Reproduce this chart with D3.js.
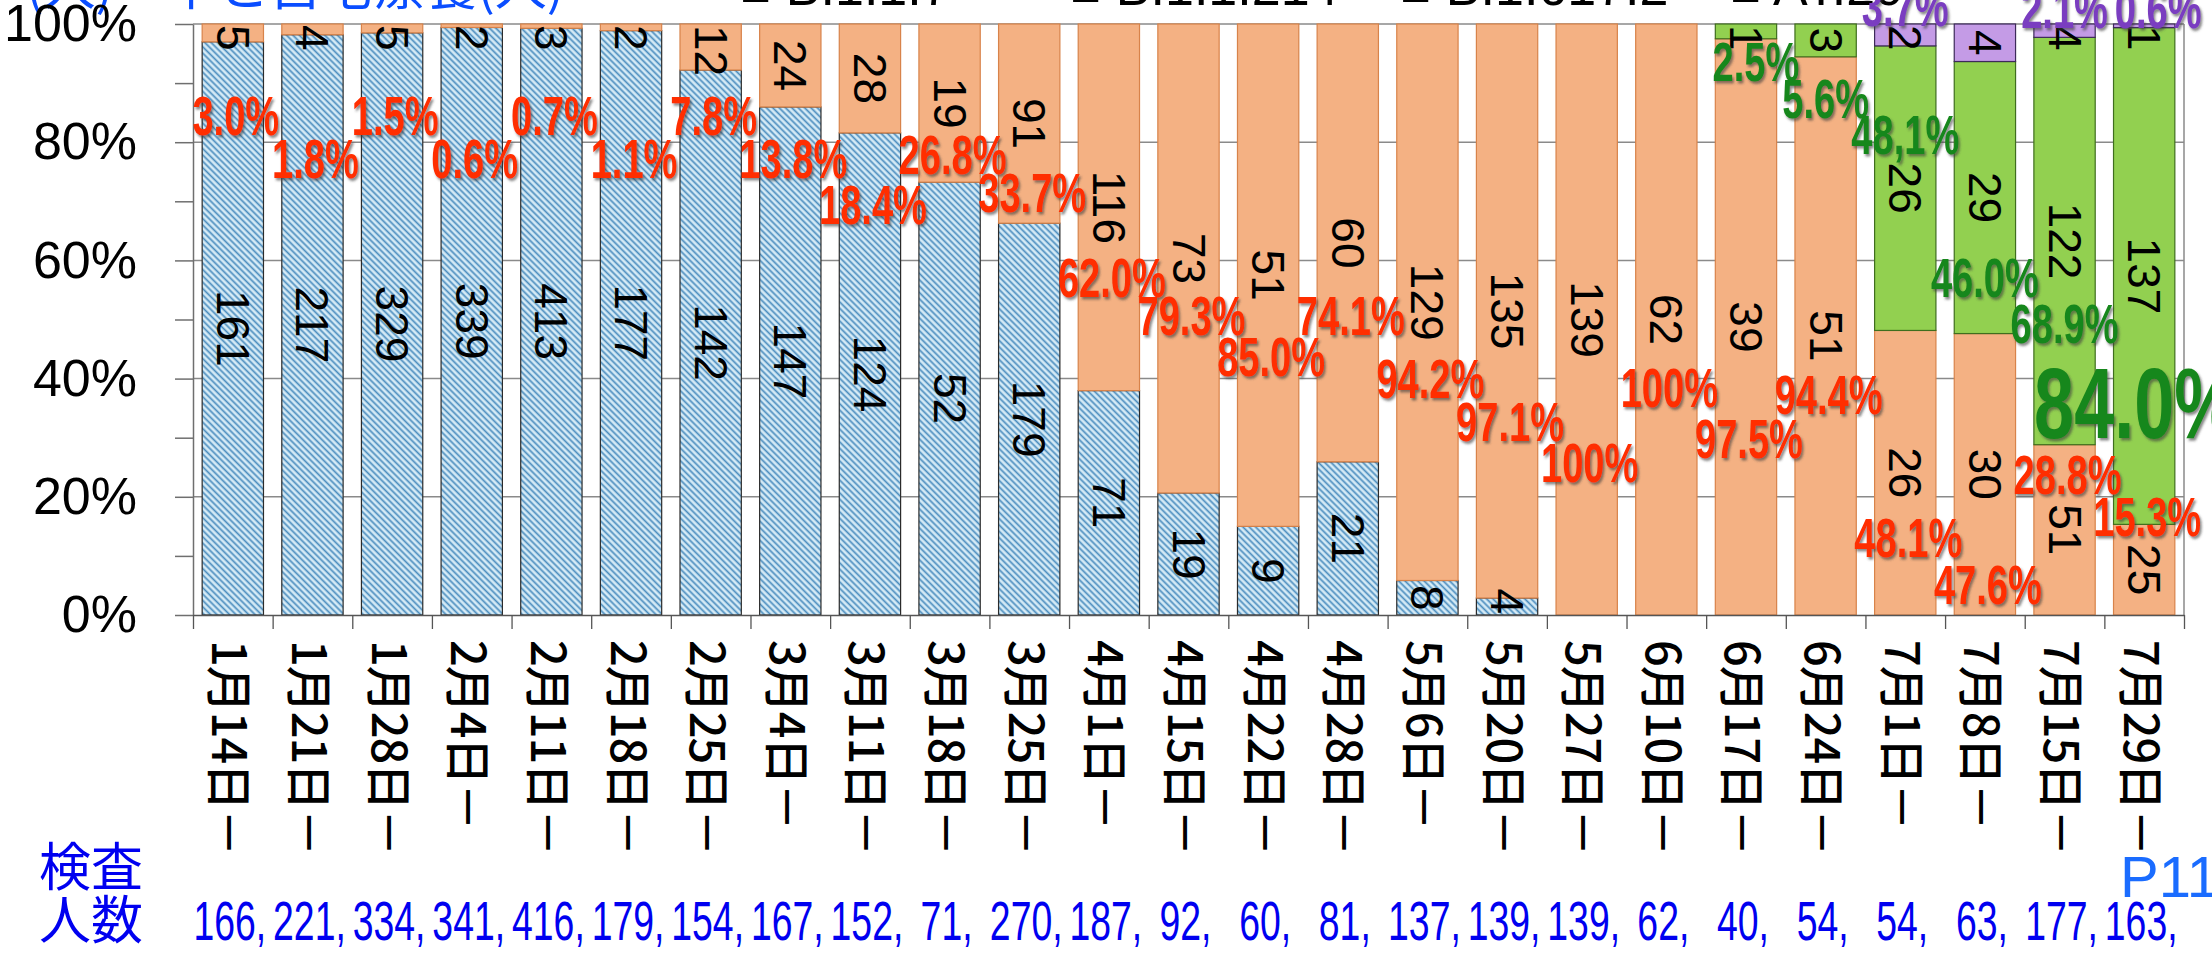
<!DOCTYPE html>
<html>
<head>
<meta charset="utf-8">
<script src="https://cdn.jsdelivr.net/npm/d3@7"></script>
<style>
  body { margin: 0; background: #fff; overflow: hidden; }
  svg { display: block; }
</style>
</head>
<body>
<svg id="chart"></svg>
<script>
// week labels and tested counts
const dates = ['1月14日－','1月21日－','1月28日－','2月4日－','2月11日－','2月18日－','2月25日－',
  '3月4日－','3月11日－','3月18日－','3月25日－','4月1日－','4月15日－','4月22日－','4月28日－',
  '5月6日－','5月20日－','5月27日－','6月10日－','6月17日－','6月24日－','7月1日－','7月8日－',
  '7月15日－','7月29日－'];
const tested = [166,221,334,341,416,179,154,167,152,71,270,187,92,60,81,137,139,139,62,40,54,54,63,177,163];

// counts per lineage (bottom -> top)
const conventional = [161,217,329,339,413,177,142,147,124,52,179,71,19,9,21,8,4,0,0,0,0,0,0,0,0];
const alpha  = [5,4,5,2,3,2,12,24,28,19,91,116,73,51,60,129,135,139,62,39,51,26,30,51,25];
const delta  = [0,0,0,0,0,0,0,0,0,0,0,0,0,0,0,0,0,0,0,1,3,26,29,122,137];
const other  = [0,0,0,0,0,0,0,0,0,0,0,0,0,0,0,0,0,0,0,0,0,2,4,4,1];

// percentage annotations as printed on the chart
const alphaPct = ['3.0%','1.8%','1.5%','0.6%','0.7%','1.1%','7.8%','13.8%','18.4%','26.8%','33.7%',
  '62.0%','79.3%','85.0%','74.1%','94.2%','97.1%','100%','100%','97.5%','94.4%','48.1%','47.6%','28.8%','15.3%'];
const deltaPct = {19: '2.5%', 20: '5.6%', 21: '48,1%', 22: '46.0%', 23: '68.9%', 24: '84.0%'};
const otherPct = {21: '3.7%', 23: '2.1%', 24: '0.6%'};

// where the annotations sit, in axis percent
const alphaLabelAt = [84.4,77.2,84.4,77.2,84.4,77.2,84.4,77.2,69.5,77.9,71.5,57.0,50.6,43.7,50.6,
  39.9,32.7,25.8,38.5,29.9,37.2,13.1,5.1,23.7,16.6];
const deltaLabelAt = {19: 93.6, 20: 87.4, 21: 81.3, 22: 57.0, 23: 49.3, 24: 35.8};
const otherLabelAt = {21: 103, 23: 102.6, 24: 102.6};

const yTicks = [0, 0.1, 0.2, 0.3, 0.4, 0.5, 0.6, 0.7, 0.8, 0.9, 1];

let width = 2212,
    height = 954;

let svg = d3.select('#chart')
            .attr('width', width)
            .attr('height', height);

let x = d3.scaleBand()
          .domain(d3.range(dates.length))
          .range([193, 2184])
          .paddingInner(0.23)
          .paddingOuter(0.115);

let y = d3.scaleLinear()
          .domain([0, 1])
          .range([615, 24]);

let cx = i => x(i) + x.bandwidth() / 2;

let rows = dates.map((d, i) => ({
  i: i, conventional: conventional[i], alpha: alpha[i], delta: delta[i], other: other[i]
}));

let keys = ['conventional', 'alpha', 'delta', 'other'];
let series = d3.stack().keys(keys).offset(d3.stackOffsetExpand)(rows);

let fills = {conventional: 'url(#hatch)', alpha: '#f4b183', delta: '#92d050', other: '#c49be6'};
let strokes = {conventional: '#2b2b2b', alpha: '#d8834a', delta: '#3f6e1e', other: '#3d2a5a'};

let sans = 'Liberation Sans, Arial, sans-serif';
let cjk = "'Noto Sans CJK JP', sans-serif";

let defs = svg.append('defs');
let pat = defs.append('pattern')
              .attr('id', 'hatch')
              .attr('patternUnits', 'userSpaceOnUse')
              .attr('width', 4.5)
              .attr('height', 4.5)
              .attr('patternTransform', 'rotate(-45)');
pat.append('rect').attr('width', 4.5).attr('height', 4.5).attr('fill', '#d6ebf6');
pat.append('line')
   .attr('x1', 2.25).attr('x2', 2.25).attr('y1', 0).attr('y2', 4.5)
   .attr('stroke', '#4a8cbe').attr('stroke-width', 1.7);

defs.append('filter')
    .attr('id', 'shadow')
    .attr('x', '-20%').attr('y', '-20%').attr('width', '140%').attr('height', '140%')
  .append('feDropShadow')
    .attr('dx', 2.5).attr('dy', 2.5).attr('stdDeviation', 1.3)
    .attr('flood-color', '#3a3a3a').attr('flood-opacity', 0.6);

// cut-off heading at the top edge
svg.append('text')
   .attr('x', 26).attr('y', 5)
   .attr('font-family', cjk)
   .attr('font-size', 52)
   .attr('fill', '#0a4dff')
   .text('(人)　中と自宅療養(人)');

svg.append('g')
   .selectAll('text')
   .data([['■ B.1.1.7', 740], ['■ B.1.1.214', 1070], ['■ B.1.617.2', 1400], ['■ AY.29', 1730]])
   .join('text')
   .attr('x', d => d[1]).attr('y', 5)
   .attr('font-family', sans)
   .attr('font-size', 52)
   .attr('fill', '#000')
   .text(d => d[0]);

// grid lines
svg.append('g')
   .selectAll('line')
   .data([0.2, 0.4, 0.6, 0.8, 1])
   .join('line')
   .attr('x1', x.range()[0]).attr('x2', x.range()[1])
   .attr('y1', d => y(d)).attr('y2', d => y(d))
   .attr('stroke', '#8a8a8a').attr('stroke-width', 1.5);

// y axis
let yAxis = svg.append('g')
   .attr('transform', `translate(${x.range()[0]},0)`)
   .call(d3.axisLeft(y)
      .tickValues(yTicks)
      .tickSize(18)
      .tickSizeOuter(0)
      .tickPadding(38)
      .tickFormat(d => Math.round(d * 100) % 20 === 0 ? Math.round(d * 100) + '%' : ''));
yAxis.select('.domain').attr('stroke', '#6f6f6f').attr('stroke-width', 1.5);
yAxis.selectAll('.tick line').attr('stroke', '#6f6f6f').attr('stroke-width', 1.5);
yAxis.selectAll('.tick text')
     .attr('font-family', sans)
     .attr('font-size', 52)
     .attr('fill', '#000');

// right frame
svg.append('line')
   .attr('x1', x.range()[1]).attr('x2', x.range()[1])
   .attr('y1', y(0)).attr('y2', y(1))
   .attr('stroke', '#8a8a8a').attr('stroke-width', 1.5);

// bars
svg.append('g')
   .selectAll('g')
   .data(series)
   .join('g')
   .attr('fill', s => fills[s.key])
   .attr('stroke', s => strokes[s.key])
   .attr('stroke-width', 1.2)
   .selectAll('rect')
   .data(s => s.filter(d => d[1] - d[0] > 0))
   .join('rect')
   .attr('x', d => x(d.data.i))
   .attr('width', x.bandwidth())
   .attr('y', d => y(d[1]))
   .attr('height', d => y(d[0]) - y(d[1]));

// x axis with ticks on the band edges
let edge = d3.scaleLinear().domain([0, dates.length]).range(x.range());
let xAxis = svg.append('g')
   .attr('transform', `translate(0,${y(0)})`)
   .call(d3.axisBottom(edge).ticks(dates.length).tickSize(14).tickSizeOuter(0).tickFormat(''));
xAxis.select('.domain').attr('stroke', '#555').attr('stroke-width', 1.5);
xAxis.selectAll('.tick line').attr('stroke', '#555').attr('stroke-width', 1.3);

svg.append('g')
   .selectAll('text')
   .data(dates)
   .join('text')
   .attr('transform', (d, i) => `translate(${cx(i)},640) rotate(90)`)
   .attr('text-anchor', 'start')
   .attr('dominant-baseline', 'central')
   .attr('font-family', cjk)
   .attr('font-weight', 500)
   .attr('font-size', 47)
   .attr('letter-spacing', -1)
   .attr('fill', '#000')
   .text(d => d);

// counts inside the segments (rotated, kept inside the plot)
let counts = svg.append('g');
series.forEach(s => {
  s.forEach(d => {
    let v = d.data[s.key];
    if (!v) return;
    let t = counts.append('text')
          .attr('text-anchor', 'middle')
          .attr('dominant-baseline', 'central')
          .attr('font-family', sans)
          .attr('font-size', 46)
          .attr('fill', '#000')
          .text(v);
    let half = t.node().getComputedTextLength() / 2;
    let mid = (y(d[0]) + y(d[1])) / 2;
    mid = Math.max(mid, y(1) + half + 1);
    mid = Math.min(mid, y(0) - half - 1);
    t.attr('transform', `translate(${cx(d.data.i)},${mid}) rotate(90)`);
  });
});

// percentage annotations (tall, condensed bold look)
let notes = [];
alphaPct.forEach((p, i) => notes.push({i: i, text: p, at: alphaLabelAt[i], color: '#ff2d00', size: 56, dx: 3}));
Object.keys(deltaPct).forEach(k => notes.push({i: +k, text: deltaPct[k], at: deltaLabelAt[k], color: '#17871a',
  size: +k === 24 ? 100 : 56, dx: +k === 24 ? -8 : (+k === 19 ? 10 : 0)}));
Object.keys(otherPct).forEach(k => notes.push({i: +k, text: otherPct[k], at: otherLabelAt[k], color: '#7a3cc0',
  size: 56, dx: +k === 24 ? 14 : 0}));

svg.append('g')
   .selectAll('text')
   .data(notes)
   .join('text')
   .attr('transform', d => `translate(${cx(d.i) + d.dx},${y(d.at / 100)}) scale(${d.size > 60 ? 0.72 : 0.68},1)`)
   .attr('text-anchor', 'middle')
   .attr('dominant-baseline', 'central')
   .attr('font-family', sans)
   .attr('font-weight', 'bold')
   .attr('font-size', d => d.size)
   .attr('fill', d => d.color)
   .attr('filter', 'url(#shadow)')
   .text(d => d.text);

// tested counts row
svg.append('text')
   .attr('x', 39).attr('y', 886)
   .attr('font-family', cjk)
   .attr('font-size', 52)
   .attr('fill', '#0000f0')
   .text('検査');
svg.append('text')
   .attr('x', 39).attr('y', 939)
   .attr('font-family', cjk)
   .attr('font-size', 52)
   .attr('fill', '#0000f0')
   .text('人数');

svg.append('g')
   .selectAll('text')
   .data(tested)
   .join('text')
   .attr('transform', (d, i) => `translate(${cx(i) - 3},940) scale(0.68,1)`)
   .attr('text-anchor', 'middle')
   .attr('font-family', sans)
   .attr('font-size', 55)
   .attr('fill', '#0000f0')
   .text(d => d + ',');

svg.append('text')
   .attr('x', 2120).attr('y', 897)
   .attr('font-family', sans)
   .attr('font-size', 58)
   .attr('fill', '#1a6cff')
   .text('P11');
</script>
</body>
</html>
